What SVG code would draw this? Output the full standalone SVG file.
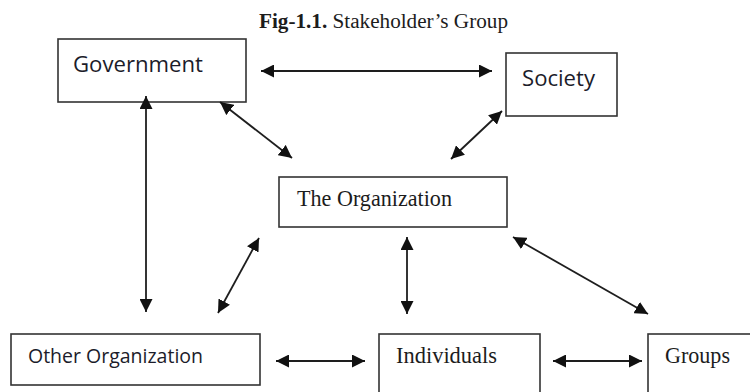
<svg xmlns="http://www.w3.org/2000/svg" width="750" height="392" viewBox="0 0 750 392">
  <style>
    .box { fill: #ffffff; stroke: #333333; stroke-width: 1.6; }
    .sans { font-family: "Open Sans", "Liberation Sans", sans-serif; fill: #1c1c2a; }
    .serif { font-family: "Liberation Serif", "Times New Roman", serif; fill: #1c1c1c; }
    .link { stroke: #1e1e1e; stroke-width: 1.8; fill: none; marker-end: url(#head); marker-start: url(#head); }
  </style>
  <defs>
    <marker id="head" markerUnits="userSpaceOnUse" markerWidth="14" markerHeight="13" refX="13" refY="6.5" viewBox="0 0 14 13" orient="auto-start-reverse">
      <path d="M0,0 L13,6.5 L0,13 Z" fill="#111111"/>
    </marker>
  </defs>
  <rect width="750" height="392" fill="#ffffff"/>

  <text x="259" y="28" class="serif" font-size="20" textLength="249" lengthAdjust="spacingAndGlyphs" fill="#111111"><tspan font-weight="bold">Fig-1.1.</tspan> Stakeholder’s Group</text>

  <g id="government">
    <rect class="box" x="58" y="39" width="188" height="63"/>
    <text x="73" y="72" class="sans" font-size="21.5" textLength="130" lengthAdjust="spacingAndGlyphs">Government</text>
  </g>
  <g id="society">
    <rect class="box" x="506" y="53" width="111" height="63"/>
    <text x="522" y="86" class="sans" font-size="21.5" textLength="73" lengthAdjust="spacingAndGlyphs">Society</text>
  </g>
  <g id="organization">
    <rect class="box" x="279" y="177" width="228" height="50"/>
    <text x="297" y="206" class="serif" font-size="23.5" textLength="155" lengthAdjust="spacingAndGlyphs">The Organization</text>
  </g>
  <g id="other-organization">
    <rect class="box" x="11" y="334" width="249" height="51"/>
    <text x="28" y="363" class="sans" font-size="19.5" textLength="175" lengthAdjust="spacingAndGlyphs">Other Organization</text>
  </g>
  <g id="individuals">
    <rect class="box" x="379" y="334" width="161" height="70"/>
    <text x="396" y="363" class="serif" font-size="22.5" textLength="101" lengthAdjust="spacingAndGlyphs">Individuals</text>
  </g>
  <g id="groups">
    <rect class="box" x="648" y="334" width="110" height="70"/>
    <text x="665" y="363" class="serif" font-size="22.5" textLength="65" lengthAdjust="spacingAndGlyphs">Groups</text>
  </g>

  <g id="connectors">
    <line class="link" x1="261" y1="71" x2="492" y2="71"/>
    <line class="link" x1="146" y1="96" x2="146" y2="312"/>
    <line class="link" x1="220" y1="102" x2="292" y2="158"/>
    <line class="link" x1="502" y1="111" x2="451" y2="159"/>
    <line class="link" x1="259" y1="238" x2="218" y2="313"/>
    <line class="link" x1="407" y1="237" x2="407" y2="314"/>
    <line class="link" x1="513" y1="237" x2="648" y2="314"/>
    <line class="link" x1="276" y1="361" x2="365" y2="361"/>
    <line class="link" x1="553" y1="361" x2="642" y2="361"/>
  </g>
</svg>
